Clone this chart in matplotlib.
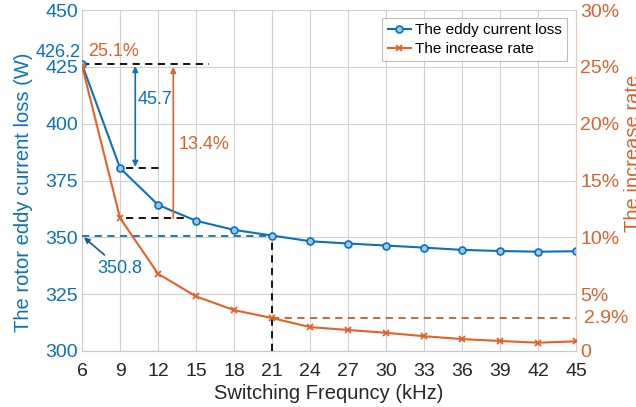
import numpy as np
import matplotlib.pyplot as plt

plt.rcParams['font.family'] = ['Liberation Sans', 'DejaVu Sans']

freq = [6, 9, 12, 15, 18, 21, 24, 27, 30, 33, 36, 39, 42, 45]
loss = [426.2, 380.5, 364.3, 357.3, 353.3, 350.8, 348.3, 347.3, 346.4, 345.5, 344.5, 344.0, 343.7, 343.9]
rate = [25.1, 11.7, 6.8, 4.8, 3.6, 2.9, 2.1, 1.85, 1.6, 1.3, 1.05, 0.88, 0.73, 0.85]
xticks = list(range(6, 46, 3))
left_ticks = [300, 325, 350, 375, 400, 425, 450]
right_ticks = [0, 5, 10, 15, 20, 25, 30]
right_labels = ['0', '5%', '10%', '15%', '20%', '25%', '30%']

blue = '#0a72ba'
orange = '#e0632a'
txt_orange = '#d9622b'

fig = plt.figure(figsize=(6.36, 4.07), dpi=100)
ax = fig.add_axes([0.129, 0.1376, 0.777, 0.8374])
ax2 = ax.twinx()

l1, = ax.plot(freq, loss, '-o', color=blue, lw=1.5, ms=5,
              mfc='#9cc6e6', mec=blue, mew=1.2, label='The eddy current loss', zorder=5)
l2, = ax2.plot(freq, rate, '-x', color=orange, lw=1.5, ms=5, mew=1.3,
               label='The increase rate', zorder=5)

ax.set_xlim(6, 45)
ax.set_ylim(300, 450)
ax2.set_ylim(0, 30)
ax.set_xticks(xticks)
ax.set_yticks(left_ticks)
ax2.set_yticks(right_ticks)
ax2.set_yticklabels(right_labels)

ax.grid(True, color='#d0d0d0', lw=0.8)
for a in (ax, ax2):
    a.spines['top'].set_visible(False)
    a.tick_params(length=0, labelsize=14)
ax.spines['left'].set_color('#c8c8c8')
ax.spines['bottom'].set_color('#c8c8c8')
ax.spines['right'].set_visible(False)
ax2.spines['left'].set_visible(False)
ax2.spines['bottom'].set_visible(False)
ax2.spines['right'].set_color('#f0c8b0')
ax.tick_params(axis='y', colors=blue, pad=3)
ax.tick_params(axis='x', colors='#262626', pad=9)
ax2.tick_params(axis='y', colors=txt_orange, pad=3)

ax.set_xlabel('Switching Frequncy (kHz)', fontsize=14.5, color='#262626')
ax.xaxis.set_label_coords(0.5, -0.098)
ax.set_ylabel('The rotor eddy current loss (W)', fontsize=14.5, color=blue)
ax.yaxis.set_label_coords(-0.1, 0.466)
ax2.set_ylabel('The increase rate', fontsize=14.5, color=txt_orange)
ax2.yaxis.set_label_coords(1.097, 0.58)

# annotations on the loss axis
ax.plot([6, 16], [loss[0], loss[0]], '--', color='k', lw=1.3, dashes=(4, 3), zorder=4)
ax.plot([9.5, 12.3], [loss[1], loss[1]], '--', color='k', lw=1.3, dashes=(4, 3), zorder=4)
ax.annotate('', xy=(10.2, loss[0] - 0.8), xytext=(10.2, loss[1] + 0.6),
            arrowprops=dict(arrowstyle='<|-|>', color=blue, lw=1.2, mutation_scale=8,
                            shrinkA=0, shrinkB=0))
ax.text(10.4, 410.5, '45.7', color=blue, fontsize=13, va='center', ha='left')
ax.plot([6, 21], [loss[5], loss[5]], '--', color=blue, lw=1.3, dashes=(4, 3), zorder=4)
ax.plot([21, 21], [300, loss[5]], '--', color='k', lw=1.3, dashes=(4, 3), zorder=4)
ax.annotate('350.8', xy=(6.15, 350), xytext=(7.2, 336.5), color=blue, fontsize=13,
            ha='left', va='center',
            arrowprops=dict(arrowstyle='-|>', color='#1a5a8a', lw=1.2, mutation_scale=8,
                            shrinkA=2, shrinkB=0))
ax.text(5.85, 431.5, '426.2', color=blue, fontsize=13, ha='right', va='center',
        clip_on=False)

# annotations on the rate axis
ax2.plot([9.5, 14.1], [rate[1], rate[1]], '--', color='k', lw=1.3, dashes=(4, 3), zorder=4)
ax2.annotate('', xy=(13.2, 25.0), xytext=(13.2, rate[1]),
             arrowprops=dict(arrowstyle='-|>', color=orange, lw=1.2, mutation_scale=8,
                             shrinkA=0, shrinkB=0))
ax2.text(13.6, 18.2, '13.4%', color=txt_orange, fontsize=13, va='center', ha='left')
ax2.plot([21, 45], [rate[5], rate[5]], '--', color='#c0602a', lw=1.3, dashes=(4, 3), zorder=4)
ax2.text(45.6, rate[5], '2.9%', color=txt_orange, fontsize=14, va='center', ha='left',
         clip_on=False)
ax2.text(6.5, 26.4, '25.1%', color=txt_orange, fontsize=13, va='center', ha='left')

leg = ax2.legend(handles=[l1, l2], loc='upper right', fontsize=11, frameon=True,
                 fancybox=False, edgecolor='#b0b0b0', handlelength=1.5,
                 handletextpad=0.3, borderpad=0.35, labelspacing=0.3,
                 borderaxespad=0, bbox_to_anchor=(0.982, 0.977))
leg.get_frame().set_linewidth(0.8)

fig.savefig('out.png', dpi=100)
